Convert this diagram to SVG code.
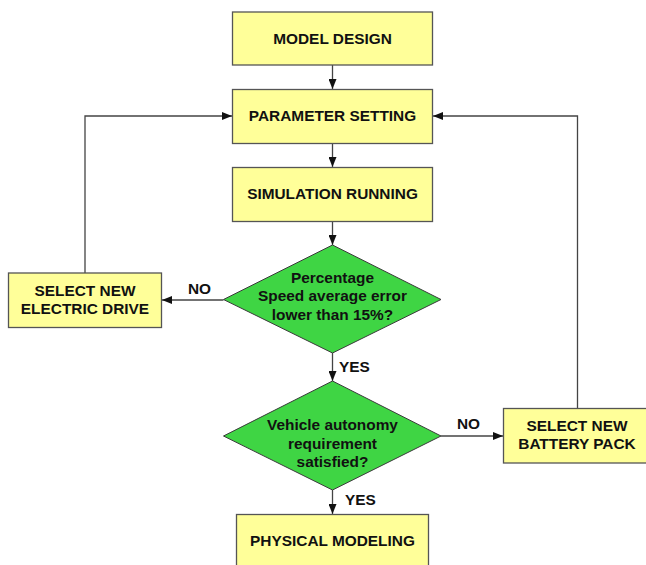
<svg xmlns="http://www.w3.org/2000/svg" width="646" height="565" viewBox="0 0 646 565">
<style>
.box{fill:#ffff99;stroke:#555;stroke-width:1.3}
.dia{fill:#3fd544;stroke:#3a3a3a;stroke-width:1}
.t{font-family:"Liberation Sans",Arial,sans-serif;font-weight:bold;font-size:15.4px;fill:#111;text-anchor:middle}
.lbl{font-family:"Liberation Sans",Arial,sans-serif;font-weight:bold;font-size:15.4px;fill:#111}
.c{fill:none;stroke:#444;stroke-width:1.3;marker-end:url(#ah)}
</style>
<defs>
<marker id="ah" viewBox="0 0 10 8" refX="10" refY="4" markerWidth="10" markerHeight="8" markerUnits="userSpaceOnUse" orient="auto">
<path d="M0,0 L10,4 L0,8 Z" fill="#111"/>
</marker>
</defs>
<rect width="646" height="565" fill="#fff"/>
<g id="connectors">
<path class="c" d="M332.5,65 V89"/>
<path class="c" d="M332.5,143 V167"/>
<path class="c" d="M332.5,222 V245"/>
<path class="c" d="M223.5,300 H162"/>
<path class="c" d="M85,273 V116 H232"/>
<path class="c" d="M332.5,353 V381"/>
<path class="c" d="M441,436 H503"/>
<path class="c" d="M577.5,408 V116 H433"/>
<path class="c" d="M332.5,490 V514"/>
<text class="lbl" x="188" y="294">NO</text>
<text class="lbl" x="339" y="372">YES</text>
<text class="lbl" x="457" y="429">NO</text>
<text class="lbl" x="345" y="505">YES</text>
</g>
<g id="model-design">
<rect class="box" x="232.5" y="12" width="200" height="53"/>
<text class="t" x="332.5" y="44">MODEL DESIGN</text>
</g>
<g id="parameter-setting">
<rect class="box" x="232.5" y="89.5" width="200" height="54"/>
<text class="t" x="332.5" y="121">PARAMETER SETTING</text>
</g>
<g id="simulation-running">
<rect class="box" x="232.5" y="167.5" width="200" height="54"/>
<text class="t" x="332.5" y="199">SIMULATION RUNNING</text>
</g>
<g id="decision-speed">
<polygon class="dia" points="332.5,245 441,299.5 332.5,353 223.5,299.5"/>
<text class="t" x="332.5" y="283">Percentage</text>
<text class="t" x="332.5" y="301">Speed average error</text>
<text class="t" x="332.5" y="319.5">lower than 15%?</text>
</g>
<g id="select-electric-drive">
<rect class="box" x="8.5" y="273" width="153" height="54.5"/>
<text class="t" x="85" y="295.5">SELECT NEW</text>
<text class="t" x="85" y="314">ELECTRIC DRIVE</text>
</g>
<g id="decision-autonomy">
<polygon class="dia" points="332.5,381 441,436 332.5,490 223.5,436"/>
<text class="t" x="332.5" y="429.5">Vehicle autonomy</text>
<text class="t" x="332.5" y="448.5">requirement</text>
<text class="t" x="332.5" y="467">satisfied?</text>
</g>
<g id="select-battery-pack">
<rect class="box" x="503.5" y="408.5" width="145" height="54.5"/>
<text class="t" x="577" y="430.5">SELECT NEW</text>
<text class="t" x="577" y="449">BATTERY PACK</text>
</g>
<g id="physical-modeling">
<rect class="box" x="236.5" y="514.5" width="192" height="54"/>
<text class="t" x="332.5" y="546">PHYSICAL MODELING</text>
</g>
</svg>
